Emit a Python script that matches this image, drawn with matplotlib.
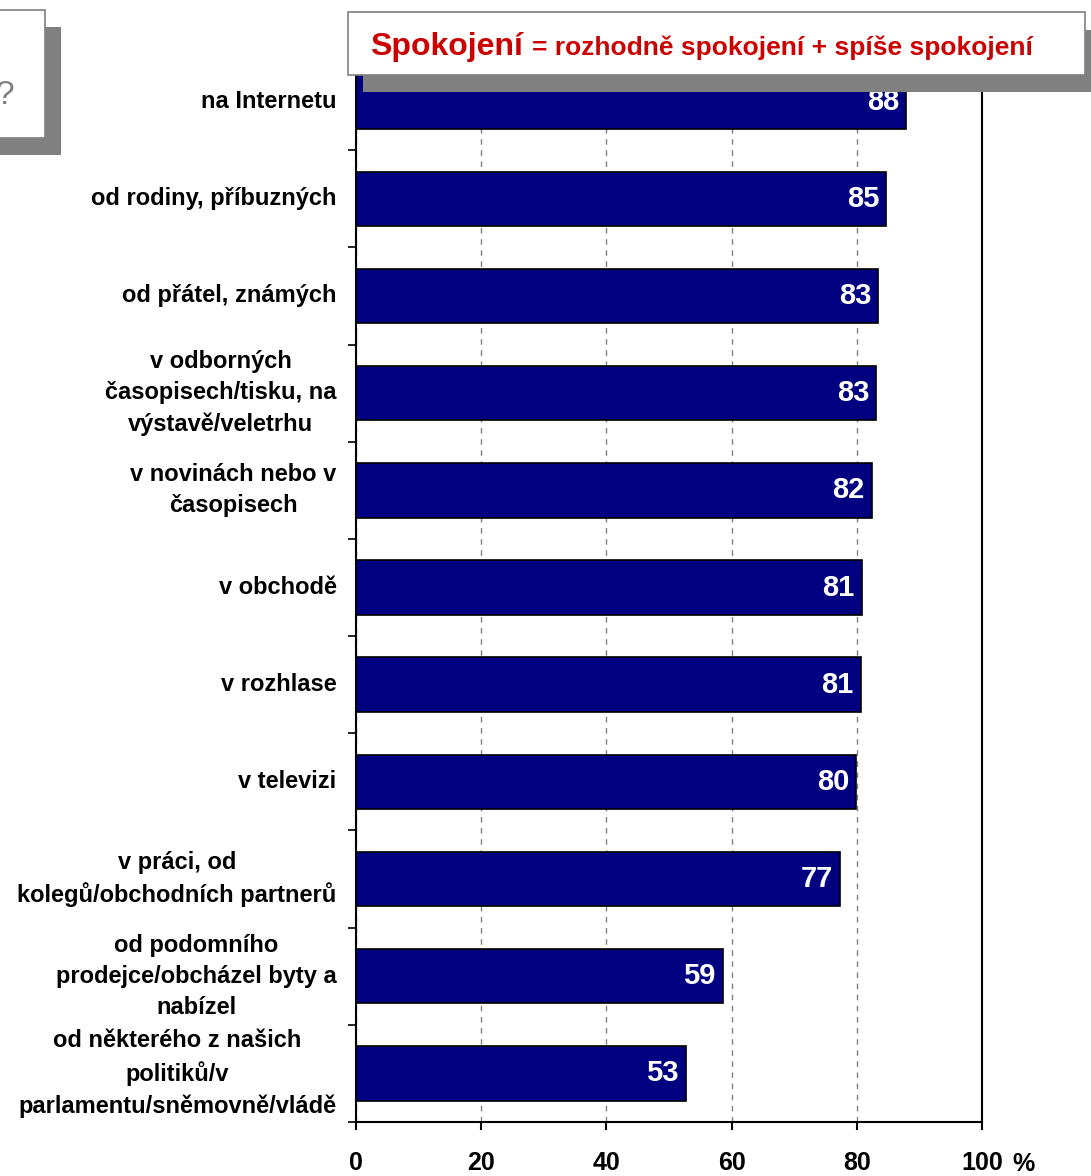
import numpy as np
import matplotlib.pyplot as plt
from matplotlib.patches import Rectangle

plt.rcParams['font.family'] = ['Liberation Sans', 'DejaVu Sans']

categories = ['na Internetu',
              'od rodiny, příbuzných',
              'od přátel, známých',
              'v odborných\nčasopisech/tisku, na\nvýstavě/veletrhu',
              'v novinách nebo v\nčasopisech',
              'v obchodě',
              'v rozhlase',
              'v televizi',
              'v práci, od\nkolegů/obchodních partnerů',
              'od podomního\nprodejce/obcházel byty a\nnabízel',
              'od některého z našich\npolitiků/v\nparlamentu/sněmovně/vládě']
values = [87.9, 84.7, 83.4, 83.1, 82.4, 80.8, 80.6, 79.9, 77.3, 58.6, 52.7]
labels = ['88', '85', '83', '83', '82', '81', '81', '80', '77', '59', '53']
xticks = [0, 20, 40, 60, 80, 100]

W, H = 1091, 1176
fig = plt.figure(figsize=(W / 100, H / 100), dpi=100)
ax = fig.add_axes([356 / W, 1 - 1122 / H, (982 - 356) / W, (1122 - 53) / H])

y = np.arange(len(categories))
ax.barh(y, values, height=0.56, color='#000080', edgecolor='black', linewidth=1.2, zorder=3)
for yi, v, lab in zip(y, values, labels):
    ax.annotate(lab, (v, yi), xytext=(-7, 0), textcoords='offset pixels',
                ha='right', va='center', color='white', fontsize=21,
                fontweight='bold', zorder=4)

ax.set_ylim(len(categories) - 0.5, -0.5)
ax.set_xlim(0, 100)

ax.set_yticks(y)
ax.set_yticklabels(categories, fontsize=17, fontweight='bold', ma='center',
                   linespacing=1.45)
for lbl in ax.get_yticklabels():
    lbl.set_va('center')
ax.tick_params(axis='y', which='major', length=0, pad=14)
ax.set_yticks(np.arange(-0.5, len(categories)), minor=True)
ax.tick_params(axis='y', which='minor', length=6, width=1.2, direction='out')

ax.set_xticks(xticks)
ax.set_xticklabels([str(t) for t in xticks], fontsize=18, fontweight='bold')
ax.tick_params(axis='x', length=6, width=1.5, pad=15)
ax.annotate('%', (100, 0), xycoords=('data', 'axes fraction'), xytext=(30, -42),
            textcoords='offset pixels', ha='left', va='center', fontsize=18,
            fontweight='bold')

ax.xaxis.grid(True, color='#808080', linestyle=(0, (4, 4)), linewidth=1)
ax.set_axisbelow(True)
ax.spines['top'].set_visible(False)
for s in ['left', 'right', 'bottom']:
    ax.spines[s].set_linewidth(1.5)

# callout boxes with shadow, in pixel coords of the figure
def px_rect(x0, y0, x1, y1, **kw):
    fig.patches.append(Rectangle((x0 / W, 1 - y1 / H), (x1 - x0) / W, (y1 - y0) / H,
                                 transform=fig.transFigure, **kw))

px_rect(363, 30, 1091, 92, facecolor='#808080', edgecolor='none', zorder=5)
px_rect(348, 12, 1085, 75, facecolor='white', edgecolor='#808080', linewidth=1.2, zorder=6)
px_rect(-10, 27, 61, 155, facecolor='#808080', edgecolor='none', zorder=5)
px_rect(-10, 10, 45, 138, facecolor='white', edgecolor='#808080', linewidth=1.2, zorder=6)

fig.text(14 / W, 1 - 95 / H, '?', ha='right', va='center', color='#808080',
         fontsize=24, zorder=7)

t1 = fig.text(370 / W, 1 - 55 / H, 'Spokojení', ha='left', va='baseline',
              color='#CC0000', fontsize=23, fontweight='bold', zorder=7)
fig.canvas.draw()
bb = t1.get_window_extent()
fig.text((bb.x1 + 9) / W, 1 - 55 / H, '= rozhodně spokojení + spíše spokojení',
         ha='left', va='baseline', color='#CC0000', fontsize=19, fontweight='bold', zorder=7)

fig.savefig('out.png', dpi=100)
